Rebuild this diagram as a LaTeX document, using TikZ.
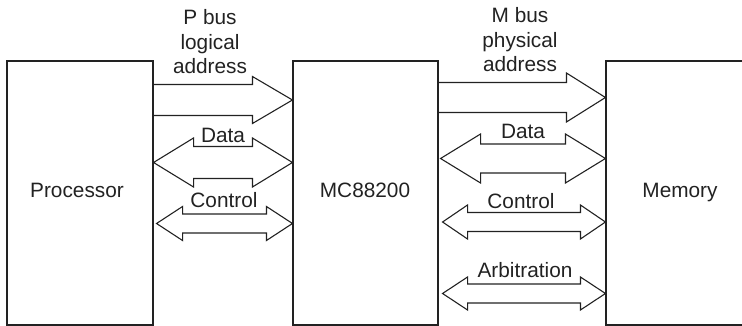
\documentclass[tikz,border=0pt]{standalone}
\usepackage{fontspec}
\setmainfont{Liberation Sans}
\usetikzlibrary{calc}
\definecolor{ink}{HTML}{222222}
% single block arrow: #1 tail, #2 tip, #3 half shaft, #4 half flare, #5 head length
\newcommand\sglbus[5]{%
  \draw[bus] ($(#1)+(0,-#3)$) -- ($(#2)+(-#5,-#3)$) -- ($(#2)+(-#5,-#4)$) -- (#2)
    -- ($(#2)+(-#5,#4)$) -- ($(#2)+(-#5,#3)$) -- ($(#1)+(0,#3)$);}
% double block arrow: #1 left tip, #2 right tip, #3 half shaft, #4 half flare, #5 head length
\newcommand\dblbus[5]{%
  \draw[bus] (#1) -- ($(#1)+(#5,-#4)$) -- ($(#1)+(#5,-#3)$) -- ($(#2)+(-#5,-#3)$)
    -- ($(#2)+(-#5,-#4)$) -- (#2) -- ($(#2)+(-#5,#4)$) -- ($(#2)+(-#5,#3)$)
    -- ($(#1)+(#5,#3)$) -- ($(#1)+(#5,#4)$) -- cycle;}
\begin{document}
\begin{tikzpicture}[x=1pt,y=-1pt,
  box/.style={draw=ink, line width=1.1pt, inner sep=0pt, minimum height=264pt},
  bus/.style={draw=ink, line width=1.1pt, line join=miter},
  lbl/.style={text=ink, font=\fontsize{20.8}{24.5}\selectfont, inner sep=0pt, anchor=base}]
\useasboundingbox (0,0) rectangle (742,326);
% blocks
\node[box, minimum width=146pt] (proc) at (80,193) {};
\node[box, minimum width=145pt] (mc) at (365.5,193) {};
\node[box, minimum width=154pt] (mem) at (683,193) {};
\node[lbl] (proct) at (77,197) {Processor};
\node[lbl] (mct) at (365,197) {MC88200};
\node[lbl] (memt) at (680,197) {Memory};
% P bus
\coordinate (paA) at (proc.east |- 0,100);
\coordinate (paB) at (mc.west |- 0,100);
\sglbus{paA}{paB}{15.5}{23.5}{40}
\coordinate (pdA) at (proc.east |- 0,162.5);
\coordinate (pdB) at (mc.west |- 0,162.5);
\dblbus{pdA}{pdB}{16}{24.5}{40}
\coordinate (pcA) at ($(proc.east |- 0,223.5)+(3,0)$);
\coordinate (pcB) at (mc.west |- 0,223.5);
\dblbus{pcA}{pcB}{9.5}{17}{26}
\node[lbl] (pl1) at (210,25) {P bus};
\node[lbl] (pl2) at (210,50) {logical};
\node[lbl] (pl3) at (210,74) {address};
\node[lbl] (pdt) at (223,143) {Data};
\node[lbl] (pct) at (224,207.5) {Control};
% M bus
\coordinate (maA) at (mc.east |- 0,97.5);
\coordinate (maB) at (mem.west |- 0,97.5);
\sglbus{maA}{maB}{15}{24.5}{39}
\coordinate (mdA) at ($(mc.east |- 0,158.5)+(2,0)$);
\coordinate (mdB) at (mem.west |- 0,158.5);
\dblbus{mdA}{mdB}{14.5}{24.5}{40}
\coordinate (mcA) at ($(mc.east |- 0,222)+(4,0)$);
\coordinate (mcB) at (mem.west |- 0,222);
\dblbus{mcA}{mcB}{9.5}{17}{25}
\coordinate (mrA) at ($(mc.east |- 0,293.5)+(4,0)$);
\coordinate (mrB) at (mem.west |- 0,293.5);
\dblbus{mrA}{mrB}{9.5}{16.5}{25}
\node[lbl] (ml1) at (520,23) {M bus};
\node[lbl] (ml2) at (520,47.5) {physical};
\node[lbl] (ml3) at (520,72) {address};
\node[lbl] (mdt) at (523,139) {Data};
\node[lbl] (mct2) at (521,208) {Control};
\node[lbl] (mrt) at (525,277) {Arbitration};
\end{tikzpicture}
\end{document}
